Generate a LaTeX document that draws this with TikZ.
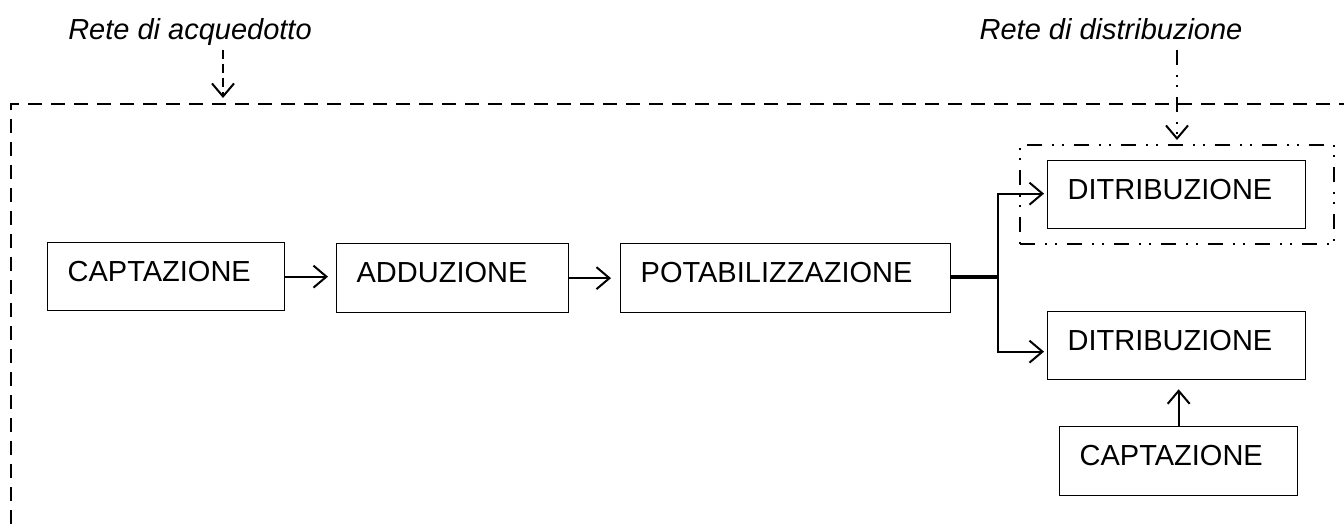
\documentclass[tikz,border=0pt]{standalone}
\usepackage{fontspec}
\setmainfont{Liberation Sans}
\usetikzlibrary{arrows.meta,calc}
\begin{document}
\begin{tikzpicture}[x=1pt,y=-1pt,
  box/.style={draw, line width=1.3pt, inner xsep=20pt, inner ysep=0pt, align=left,
    text height=20.8pt, text depth=12pt, anchor=north west,
    font=\fontsize{29}{34}\selectfont},
  lab/.style={anchor=base, inner sep=0pt, font=\itshape\fontsize{29}{34}\selectfont},
  arr/.style={line width=2pt, -{Straight Barb[length=13pt,width=22pt,line width=2pt]}},
  dashpat/.style={dash pattern=on 14pt off 9pt},
  dotdash/.style={dash pattern=on 15pt off 10pt on 2pt off 8pt on 2pt off 10pt},
]
\useasboundingbox (0,0) rectangle (1344,529);
\clip (0,0) rectangle (1344,529);

% outer dashed region (extends beyond the picture)
\node[draw, line width=2pt, dashpat, anchor=north west, minimum width=1400pt, minimum height=520pt, inner sep=0pt] (acq) at (10,103) {};

% dash-dot region
\node[draw, line width=2pt, dotdash, anchor=north west, minimum width=314pt, minimum height=99pt, inner sep=0pt] (dist) at (1019,144) {};

% boxes
\node[box, text width=197pt, minimum height=68pt] (cap1) at (47,242) {CAPTAZIONE};
\node[box, text width=192pt, minimum height=69pt] (add) at (336,243) {ADDUZIONE};
\node[box, text width=290pt, minimum height=69pt] (pot) at (620,243) {POTABILIZZAZIONE};
\node[box, text width=218pt, minimum height=68pt] (dis1) at (1047,160) {DITRIBUZIONE};
\node[box, text width=218pt, minimum height=68pt] (dis2) at (1047,311) {DITRIBUZIONE};
\node[box, text width=198pt, minimum height=69pt] (cap2) at (1059,426) {CAPTAZIONE};

% labels
\node[lab] (lacq) at (190,40) {Rete di acquedotto};
\node[lab] (ldis) at (1111,40) {Rete di distribuzione};

% label arrows
\coordinate (a0) at (223,50);
\coordinate (a1) at (223,103);
\draw[arr, dash pattern=on 9pt off 5pt, shorten >=5pt] (a0) -- (a1);
\coordinate (d0) at (1177,50);
\coordinate (d1) at (1177,144);
\draw[arr, dotdash, shorten >=4pt] (d0) -- (d1);

% chain arrows
\draw[arr, shorten >=8pt] (cap1.east) -- (cap1.east -| add.west);
\draw[arr, shorten >=9pt] (add.east) -- (add.east -| pot.west);

% branch
\coordinate (split) at (998,277);
\draw[line width=3.5pt] (pot.east |- split) -- (split);
\draw[arr, shorten >=3pt] ([yshift=-1pt]split) |- ([yshift=1pt]dis1.west);
\draw[arr, shorten >=3pt] ([yshift=1pt]split) |- ([yshift=-6pt]dis2.west);

% captazione to distribuzione
\draw[arr, shorten >=9pt] (cap2.north) -- (cap2.north |- dis2.south);
\end{tikzpicture}
\end{document}
